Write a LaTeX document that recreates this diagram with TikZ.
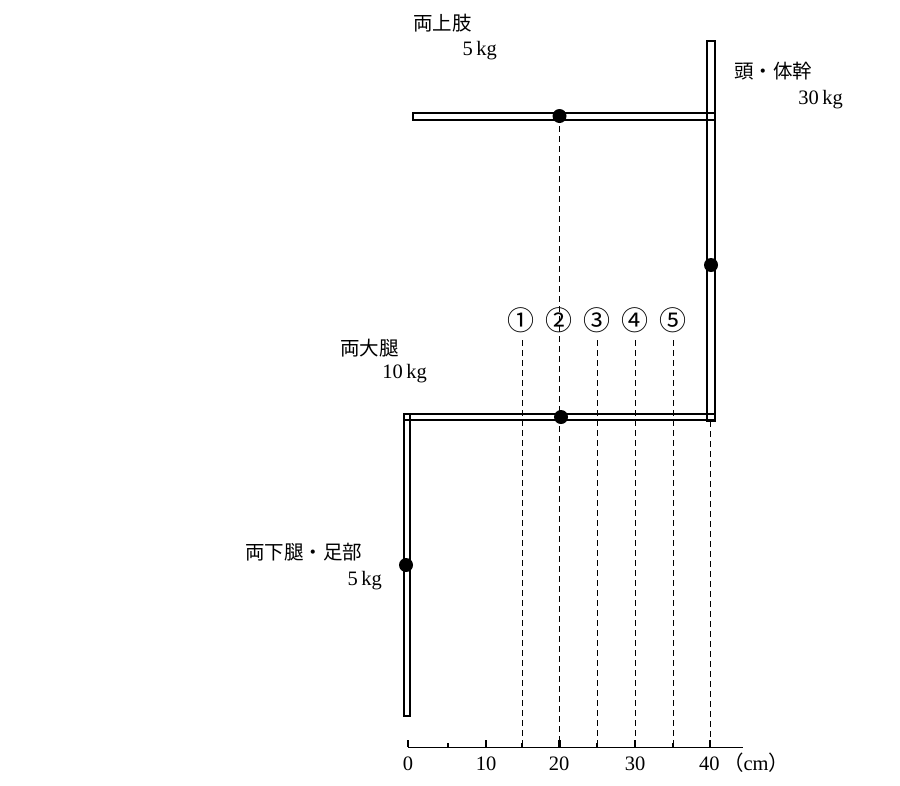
\documentclass[tikz,border=0pt]{standalone}
\usepackage{fontspec}
\newfontfamily\cjk{Noto Sans CJK JP}
\newfontfamily\numf{Liberation Serif}
\begin{document}
\begin{tikzpicture}[x=1pt,y=-1pt,
  bar/.style={draw=black,line width=1.1pt},
  dot/.style={circle,fill=black,inner sep=0pt,minimum size=14pt},
  guide/.style={line width=1pt,dash pattern=on 6pt off 4pt},
  jlbl/.style={font=\cjk\fontsize{19.5}{22}\selectfont,inner sep=0pt},
  kglbl/.style={font=\numf\fontsize{20.5}{22}\selectfont,inner sep=0pt},
  numlbl/.style={font=\cjk\fontsize{27}{28}\selectfont,inner sep=0pt},
  majortick/.style={line width=2.6pt},
  minortick/.style={line width=1.6pt}]
\useasboundingbox (0,0) rectangle (900,785);
\fill[white] (0,0) rectangle (900,785);
% axis coordinates
\coordinate (a0) at (408,747);
\coordinate (a5) at (448,747);
\coordinate (a10) at (486,747);
\coordinate (a15) at (522,747);
\coordinate (a20) at (559.5,747);
\coordinate (a25) at (597,747);
\coordinate (a30) at (635,747);
\coordinate (a35) at (673,747);
\coordinate (a40) at (710,747);
\coordinate (aend) at (743,747);
% guide tops
\coordinate (g15) at (522,340);
\coordinate (g25) at (597,340);
\coordinate (g30) at (635,340);
\coordinate (g35) at (673,340);
\coordinate (g40) at (710,421);
% centre-of-mass dots (positions)
\coordinate (armc) at (559.5,116);
% dashed guides
\draw[guide] (armc) -- (a20);
\draw[guide] (g15) -- (a15);
\draw[guide] (g25) -- (a25);
\draw[guide] (g30) -- (a30);
\draw[guide] (g35) -- (a35);
\draw[guide] (g40) -- (a40);
% bars
\draw[bar] (413,113) rectangle (715,120);
\draw[bar] (707,41) rectangle (715,421);
\draw[bar] (404,414) rectangle (715,420);
\draw[bar] (404,414) rectangle (410,716);
% dots
\node[dot] (arm) at (armc) {};
\node[dot] (trunk) at (711,265) {};
\node[dot] (thigh) at (561,417) {};
\node[dot] (leg) at (406,565) {};
% axis
\draw[line width=1pt] (a0) -- (aend);
\foreach \c in {a0,a10,a20,a30,a40}{\draw[majortick] (\c) -- ++(0,-7);}
\foreach \c in {a5,a15,a25,a35}{\draw[minortick] (\c) -- ++(0,-4);}
\node[kglbl,anchor=base] (l0) at (408,770) {0};
\node[kglbl,anchor=base] (l10) at (486,770) {10};
\node[kglbl,anchor=base] (l20) at (559,770) {20};
\node[kglbl,anchor=base] (l30) at (635,770) {30};
\node[kglbl,anchor=base west] (l40) at (699,770) {40\,{\cjk （}cm{\cjk ）}};
% circled numbers
\node[numlbl] (n1) at (521,320) {①};
\node[numlbl] (n2) at (559,320) {②};
\node[numlbl] (n3) at (597,320) {③};
\node[numlbl] (n4) at (635,320) {④};
\node[numlbl] (n5) at (673,320) {⑤};
% labels
\node[jlbl,anchor=west] (tarm) at (413,23) {両上肢};
\node[kglbl,anchor=base east] (karm) at (497,55) {5\,kg};
\node[jlbl,anchor=west] (ttrunk) at (734,71) {頭・体幹};
\node[kglbl,anchor=base east] (ktrunk) at (843,104) {30\,kg};
\node[jlbl,anchor=west] (tthigh) at (340,348) {両大腿};
\node[kglbl,anchor=base east] (kthigh) at (427,378) {10\,kg};
\node[jlbl,anchor=west] (tleg) at (245,552) {両下腿・足部};
\node[kglbl,anchor=base east] (kleg) at (382,585) {5\,kg};
\end{tikzpicture}
\end{document}
